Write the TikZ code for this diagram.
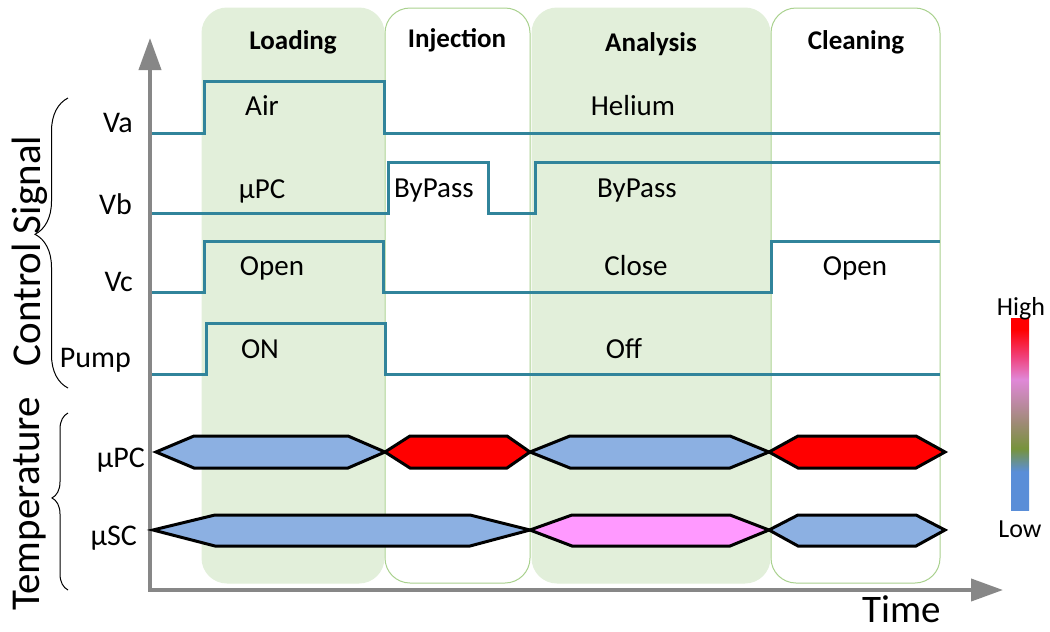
\documentclass[tikz,border=0pt]{standalone}
\usepackage{fontspec}
\setmainfont{Carlito}
\usetikzlibrary{arrows.meta}
\usetikzlibrary{decorations.pathreplacing}

\definecolor{phasegreen}{HTML}{E2EFDA}
\definecolor{phaseline}{HTML}{A9D18E}
\definecolor{signalteal}{HTML}{31849B}
\definecolor{coolblue}{HTML}{8CB0E2}
\definecolor{warmpink}{HTML}{FF99FF}
\definecolor{axisgray}{HTML}{878787}
\definecolor{barblue}{HTML}{5A8ED8}
\definecolor{bargreen}{HTML}{77933C}
\definecolor{barbrown}{HTML}{A08A78}
\definecolor{barpink}{HTML}{E088D8}
\definecolor{barrose}{HTML}{F0407A}
\definecolor{barred}{HTML}{FF0000}

\pgfdeclareverticalshading{heatbar}{100bp}{color(0bp)=(barblue); color(35bp)=(barblue);%
  color(41bp)=(bargreen); color(48bp)=(barbrown); color(59bp)=(barpink);%
  color(65bp)=(barrose); color(72bp)=(barred); color(100bp)=(barred)}

\begin{document}
\begin{tikzpicture}[x=1pt,y=-1pt,inner sep=0pt,
    phase/.style={rounded corners=25pt,line width=1pt},
    phasetitle/.style={anchor=base,font=\fontsize{27}{32}\selectfont\bfseries},
    siglabel/.style={anchor=base,font=\fontsize{29}{34}\selectfont},
    rowlabel/.style={anchor=base east,font=\fontsize{30}{36}\selectfont},
    grouplabel/.style={rotate=90,font=\fontsize{41}{48}\selectfont},
    signal/.style={signalteal,line width=3pt},
    tempbox/.style={draw=black,line width=3pt},
    axis/.style={axisgray,line width=4pt,%
      {Triangle[length=32pt,width=22pt]}-{Triangle[length=32pt,width=22pt]}},
    groupbrace/.style={decorate,line width=1pt}]

  % ここまでをバウンディングボックス内とする
  \useasboundingbox (0,0) rectangle (1050,632);

  % 座標確認用グリッド
  %\draw[step=50pt,lightgray] (0,0) grid (1050,632);

  % phases
  \node[phase,fill=phasegreen,draw=phasegreen,minimum width=182pt,minimum height=575pt]
    (loading) at (293,295.5) {};
  \node[phase,fill=white,draw=phaseline,minimum width=145pt,minimum height=575pt]
    (injection) at (457.5,295.5) {};
  \node[phase,fill=phasegreen,draw=phasegreen,minimum width=238pt,minimum height=575pt]
    (analysis) at (651,295.5) {};
  \node[phase,fill=white,draw=phaseline,minimum width=169pt,minimum height=575pt]
    (cleaning) at (855.5,295.5) {};

  \node[phasetitle] (loadingtitle) at (293,49) {Loading};
  \node[phasetitle] (injectiontitle) at (457,47) {Injection};
  \node[phasetitle] (analysistitle) at (651,51) {Analysis};
  \node[phasetitle] (cleaningtitle) at (856,49) {Cleaning};

  % axes
  \coordinate (origin) at (150,590);
  \coordinate (ytip) at (150,38);
  \coordinate (xtip) at (1003,590);
  \draw[axis] (ytip) -- (origin) -- (xtip);
  \node[anchor=base,font=\fontsize{39}{46}\selectfont] (timelabel) at (902,622) {Time};

  % control signals
  \draw[signal] (152,133) -- (204,133) |- (384,81) |- (940,133);
  \draw[signal] (152,213) -- (388,213) |- (488,162) |- (535,213) |- (940,162);
  \draw[signal] (152,292) -- (204,292) |- (383,241) |- (771,292) |- (940,241);
  \draw[signal] (152,374) -- (206,374) |- (385,323) |- (940,374);

  \node[rowlabel] (va) at (133,132) {Va};
  \node[rowlabel] (vb) at (132,214) {Vb};
  \node[rowlabel] (vc) at (133,291) {Vc};
  \node[rowlabel] (pump) at (131,367) {Pump};

  \node[siglabel] (air) at (262,115) {Air};
  \node[siglabel] (helium) at (633,115) {Helium};
  \node[siglabel] (vbpc) at (262,198) {μPC};
  \node[siglabel] (vbbypass) at (434,197) {ByPass};
  \node[siglabel] (vbbypassb) at (637,197) {ByPass};
  \node[siglabel] (vcopen) at (272,275) {Open};
  \node[siglabel] (vcclose) at (636,275) {Close};
  \node[siglabel] (vcopenb) at (855,275) {Open};
  \node[siglabel] (pumpon) at (260,358) {ON};
  \node[siglabel] (pumpoff) at (624,358) {Off};

  % temperatures
  \draw[tempbox,fill=coolblue] (156,452) -- (194,436) -- (348,436) -- (385,452)
    -- (348,468) -- (194,468) -- cycle;
  \draw[tempbox,fill=red] (385,452) -- (410,436) -- (507,436) -- (530,452)
    -- (507,468) -- (410,468) -- cycle;
  \draw[tempbox,fill=coolblue] (530,452) -- (570,436) -- (730,436) -- (769,452)
    -- (730,468) -- (570,468) -- cycle;
  \draw[tempbox,fill=red] (769,452) -- (798,436) -- (916,436) -- (945,452)
    -- (916,468) -- (798,468) -- cycle;

  \draw[tempbox,fill=coolblue] (153,530) -- (215,515) -- (470,515) -- (530,530)
    -- (470,546) -- (215,546) -- cycle;
  \draw[tempbox,fill=warmpink] (530,530) -- (572,515) -- (730,515) -- (769,530)
    -- (730,546) -- (572,546) -- cycle;
  \draw[tempbox,fill=coolblue] (769,530) -- (798,515) -- (916,515) -- (945,530)
    -- (916,546) -- (798,546) -- cycle;

  \node[rowlabel] (pctemp) at (145,467) {μPC};
  \node[rowlabel] (sctemp) at (137,545) {μSC};

  % groups
  \coordinate (ctrltop) at (68,98);
  \coordinate (ctrlbottom) at (68,388);
  \coordinate (temptop) at (68,413);
  \coordinate (tempbottom) at (68,590);
  \draw[groupbrace,decoration={brace,amplitude=33pt,aspect=0.53}] (ctrlbottom) -- (ctrltop);
  \draw[groupbrace,decoration={brace,amplitude=16pt,aspect=0.52}] (tempbottom) -- (temptop);
  \node[grouplabel] (ctrllabel) at (30,251) {Control Signal};
  \node[grouplabel] (templabel) at (30,504) {Temperature};

  % scale
  \node[shading=heatbar,minimum width=18pt,minimum height=192pt] (heatscale) at (1020,414) {};
  \node[anchor=base,font=\fontsize{26}{31}\selectfont] (high) at (1021,315) {High};
  \node[anchor=base,font=\fontsize{26}{31}\selectfont] (low) at (1020,537) {Low};

  % バウンディングボックス確認用
  %\fill[green, opacity=0.2](current bounding box.south west)
  %rectangle (current bounding box.north east);
\end{tikzpicture}
\end{document}
